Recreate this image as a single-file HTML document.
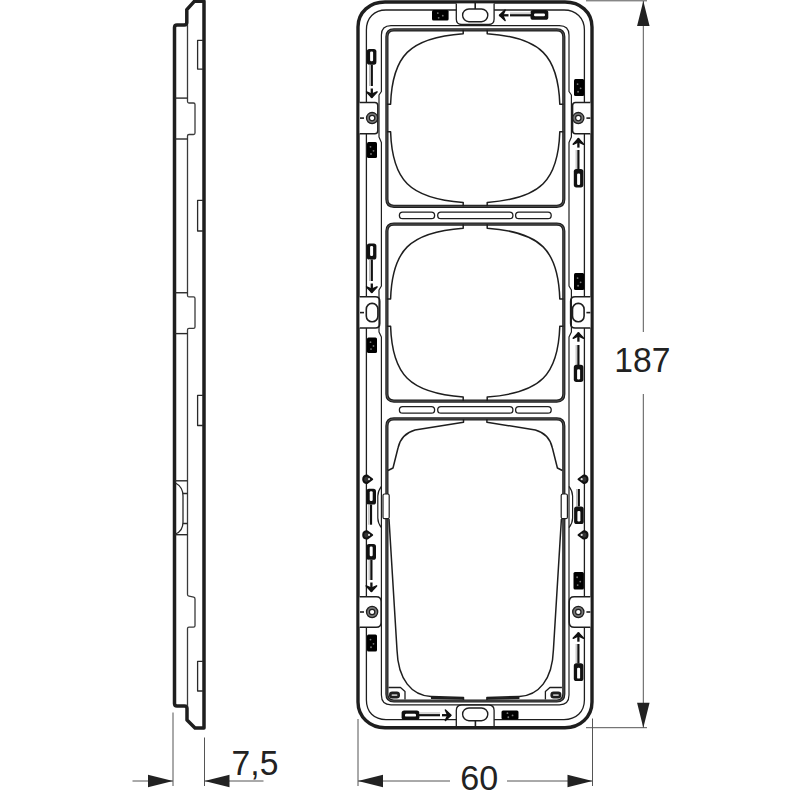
<!DOCTYPE html>
<html><head><meta charset="utf-8"><style>
html,body{margin:0;padding:0;background:#fff;}
svg{display:block;}
.t{font-family:"Liberation Sans",sans-serif;fill:#222;}
</style></head><body>
<svg width="800" height="800" viewBox="0 0 800 800" stroke-linejoin="round" stroke-linecap="butt">
<rect width="800" height="800" fill="#fff"/>
<path d="M204,728 L204,1.3 L194.3,1.3 L186.8,9.6 L186.8,22.5 Q186.8,25 184.3,25 L177,25 Q174.5,25 174.5,27.5 L174.5,703.5 Q174.5,706 177,706 L184.5,706 Q187,706 187,708.5 L187,720 L195,728 Z" fill="none" stroke="#1e1e1e" stroke-width="3.5" />
<path d="M187.5,25 L187.5,101.5 Q187.5,103 189,103 L193.5,103 Q195,103 195,104.5 L195,133 Q195,134.5 193.5,134.5 L189,134.5 Q187.5,134.5 187.5,136 L187.5,295.4 Q187.5,296.9 189,296.9 L193.5,296.9 Q195,296.9 195,298.4 L195,327 Q195,328.4 193.5,328.4 L189,328.4 Q187.5,328.4 187.5,330 L187.5,594.5 Q187.5,595.9 189,596.2 L193.7,597.2 Q195,597.5 195,599 L195,625.8 Q195,627.1 193.5,627.1 L189,627.1 Q187.5,627.1 187.5,628.5 L187.5,706" fill="none" stroke="#3a3a3a" stroke-width="1.3" />
<path d="M175,98.1 L187.5,98.1" fill="none" stroke="#2a2a2a" stroke-width="1.4" />
<path d="M175,139 L187.5,139" fill="none" stroke="#2a2a2a" stroke-width="1.4" />
<path d="M175,292.75 L187.5,292.75" fill="none" stroke="#2a2a2a" stroke-width="1.4" />
<path d="M175,333.6 L187.5,333.6" fill="none" stroke="#2a2a2a" stroke-width="1.4" />
<path d="M175,480.8 L187.5,480.8" fill="none" stroke="#2a2a2a" stroke-width="1.4" />
<path d="M175,534.7 L187.5,534.7" fill="none" stroke="#2a2a2a" stroke-width="1.4" />
<path d="M175.5,483 Q183,487 183,496 L183,522 Q183,531 175.5,534" fill="none" stroke="#2a2a2a" stroke-width="1.3" />
<path d="M183,493.5 L187.5,493.5 M183,523.5 L187.5,523.5" fill="none" stroke="#2a2a2a" stroke-width="1.3" />
<path d="M203,40.3 L197.6,40.3 L197.6,69.1 L203,69.1" fill="none" stroke="#2a2a2a" stroke-width="1.3" />
<path d="M203,200.3 L197.6,200.3 L197.6,231 L203,231" fill="none" stroke="#2a2a2a" stroke-width="1.3" />
<path d="M203,395.3 L197.6,395.3 L197.6,425.5 L203,425.5" fill="none" stroke="#2a2a2a" stroke-width="1.3" />
<path d="M203,661.3 L197.6,661.3 L197.6,691 L203,691" fill="none" stroke="#2a2a2a" stroke-width="1.3" />
<path d="M173,712.5 L173,786 M204.5,737.5 L204.5,786" fill="none" stroke="#555" stroke-width="1" />
<path d="M132.5,781 L173,781 M204.5,781 L263.5,781" fill="none" stroke="#555" stroke-width="1" />
<path d="M173,781 L148.00,787.25 L148.00,774.75 Z" fill="#222" stroke="none"/>
<path d="M204.5,781 L229.50,774.75 L229.50,787.25 Z" fill="#222" stroke="none"/>
<path d="M358,719 L358,786 M592.5,718.5 L592.5,786" fill="none" stroke="#555" stroke-width="1" />
<path d="M358,781 L450,781 M507,781 L592.5,781" fill="none" stroke="#555" stroke-width="1" />
<path d="M358,781 L383.00,774.75 L383.00,787.25 Z" fill="#222" stroke="none"/>
<path d="M592.5,781 L567.50,787.25 L567.50,774.75 Z" fill="#222" stroke="none"/>
<path d="M586,0.8 L647,0.8 M586,727.7 L647,727.7" fill="none" stroke="#555" stroke-width="1" />
<path d="M643.3,1 L643.3,332 M643.3,394 L643.3,727.7" fill="none" stroke="#555" stroke-width="1" />
<path d="M643.3,1 L649.55,26.00 L637.05,26.00 Z" fill="#222" stroke="none"/>
<path d="M643.3,727.7 L637.05,702.70 L649.55,702.70 Z" fill="#222" stroke="none"/>
<path d="M358,27 C358,12 370,2 385,2 L565,2 C580,2 592,12 592,27 L592,702 C592,717 580,727.7 565,727.7 L385,727.7 C370,727.7 358,717 358,702 Z" fill="none" stroke="#1e1e1e" stroke-width="3.4" />
<path d="M366.4,30 C366.4,18 374,10 386,10 L564,10 C576,10 584.4,18 584.4,30 L584.4,700 C584.4,712 576,719.6 564,719.6 L386,719.6 C374,719.6 366.4,712 366.4,700 Z" fill="none" stroke="#1e1e1e" stroke-width="1.3" />
<path d="M359.6,102.5 L374.80,102.5 Q377.80,102.5 377.80,105.5 L377.80,130.8 Q377.80,133.8 374.80,133.8 L359.6,133.8" fill="#fff" stroke="#1e1e1e" stroke-width="1.5" />
<circle cx="372.10" cy="118.1" r="4.1" fill="#fff" stroke="#777" stroke-width="2.8"/>
<circle cx="372.10" cy="118.1" r="5.6" fill="none" stroke="#1e1e1e" stroke-width="1.3"/>
<circle cx="372.10" cy="118.1" r="2.7" fill="none" stroke="#1e1e1e" stroke-width="1.2"/>
<path d="M360.00,118.1 L364.00,118.1" fill="none" stroke="#1e1e1e" stroke-width="1.6" />
<path d="M590.4,102.5 L575.60,102.5 Q572.60,102.5 572.60,105.5 L572.60,130.8 Q572.60,133.8 575.60,133.8 L590.4,133.8" fill="#fff" stroke="#1e1e1e" stroke-width="1.5" />
<circle cx="578.30" cy="118.1" r="4.1" fill="#fff" stroke="#777" stroke-width="2.8"/>
<circle cx="578.30" cy="118.1" r="5.6" fill="none" stroke="#1e1e1e" stroke-width="1.3"/>
<circle cx="578.30" cy="118.1" r="2.7" fill="none" stroke="#1e1e1e" stroke-width="1.2"/>
<path d="M590.40,118.1 L586.40,118.1" fill="none" stroke="#1e1e1e" stroke-width="1.6" />
<path d="M359.6,296.8 L375.30,296.8 Q379.80,296.8 379.80,301.3 L379.80,323.6 Q379.80,328.1 375.30,328.1 L359.6,328.1" fill="#fff" stroke="#1e1e1e" stroke-width="1.5" />
<rect x="366.30" y="303.40" width="11.6" height="18.4" rx="5.6" ry="5.8" fill="none" stroke="#1e1e1e" stroke-width="1.6"/>
<path d="M360.00,312.6 L364.00,312.6" fill="none" stroke="#1e1e1e" stroke-width="1.6" />
<path d="M590.4,296.8 L575.10,296.8 Q570.60,296.8 570.60,301.3 L570.60,323.6 Q570.60,328.1 575.10,328.1 L590.4,328.1" fill="#fff" stroke="#1e1e1e" stroke-width="1.5" />
<rect x="572.50" y="303.40" width="11.6" height="18.4" rx="5.6" ry="5.8" fill="none" stroke="#1e1e1e" stroke-width="1.6"/>
<path d="M590.40,312.6 L586.40,312.6" fill="none" stroke="#1e1e1e" stroke-width="1.6" />
<path d="M359.6,596.8 L376.20,596.8 Q381.20,596.8 381.20,601.8 L381.20,622.2 Q381.20,627.2 376.20,627.2 L359.6,627.2" fill="#fff" stroke="#1e1e1e" stroke-width="1.5" />
<circle cx="372.10" cy="612" r="4.1" fill="#fff" stroke="#777" stroke-width="2.8"/>
<circle cx="372.10" cy="612" r="5.6" fill="none" stroke="#1e1e1e" stroke-width="1.3"/>
<circle cx="372.10" cy="612" r="2.7" fill="none" stroke="#1e1e1e" stroke-width="1.2"/>
<path d="M360.00,612 L364.00,612" fill="none" stroke="#1e1e1e" stroke-width="1.6" />
<path d="M590.4,596.8 L574.20,596.8 Q569.20,596.8 569.20,601.8 L569.20,622.2 Q569.20,627.2 574.20,627.2 L590.4,627.2" fill="#fff" stroke="#1e1e1e" stroke-width="1.5" />
<circle cx="578.30" cy="612" r="4.1" fill="#fff" stroke="#777" stroke-width="2.8"/>
<circle cx="578.30" cy="612" r="5.6" fill="none" stroke="#1e1e1e" stroke-width="1.3"/>
<circle cx="578.30" cy="612" r="2.7" fill="none" stroke="#1e1e1e" stroke-width="1.2"/>
<path d="M590.40,612 L586.40,612" fill="none" stroke="#1e1e1e" stroke-width="1.6" />
<path d="M381.4,35 L381.4,91.5 L379,95 L379,137 L381.4,142.5 L381.4,286 L379,290 L379,332 L381.4,337 L381.4,695" fill="none" stroke="#1e1e1e" stroke-width="1.2" />
<path d="M569.0,35 L569.0,91.5 L571.4,95 L571.4,137 L569.0,142.5 L569.0,286 L571.4,290 L571.4,332 L569.0,337 L569.0,695" fill="none" stroke="#1e1e1e" stroke-width="1.2" />
<path d="M381.4,35 Q381.4,25.6 391,25.6 L559.4,25.6 Q569,25.6 569,35" fill="none" stroke="#1e1e1e" stroke-width="1.2" />
<path d="M381.4,695 Q381.4,704.8 391,704.8 L559.4,704.8 Q569,704.8 569,695" fill="none" stroke="#1e1e1e" stroke-width="1.2" />
<path d="M456.3,3.5 L456.3,19 Q456.3,24.5 461.8,24.5 L488.6,24.5 Q494.1,24.5 494.1,19 L494.1,3.5" fill="#fff" stroke="#1e1e1e" stroke-width="1.3" />
<rect x="462.6" y="9" width="25.2" height="12.7" rx="6.35" fill="none" stroke="#1e1e1e" stroke-width="1.4"/>
<path d="M475.2,3 L475.2,9" fill="none" stroke="#1e1e1e" stroke-width="1.6" />
<path d="M456.3,726 L456.3,710.5 Q456.3,705 461.8,705 L488.6,705 Q494.1,705 494.1,710.5 L494.1,726" fill="#fff" stroke="#1e1e1e" stroke-width="1.3" />
<rect x="462.6" y="708" width="25.2" height="12.7" rx="6.35" fill="none" stroke="#1e1e1e" stroke-width="1.4"/>
<path d="M475.4,720.7 L475.4,727" fill="none" stroke="#1e1e1e" stroke-width="1.6" />
<path d="M393.9,29.8 L556.8,29.8 Q563.8,29.8 563.8,36.8 L563.8,199.3 Q563.8,206.3 556.8,206.3 L393.9,206.3 Q386.9,206.3 386.9,199.3 L386.9,36.8 Q386.9,29.8 393.9,29.8 Z" fill="none" stroke="#1e1e1e" stroke-width="3.2" />
<path d="M393.9,29.8 L556.8,29.8 Q563.8,29.8 563.8,36.8 L563.8,199.3 Q563.8,206.3 556.8,206.3 L393.9,206.3 Q386.9,206.3 386.9,199.3 L386.9,36.8 Q386.9,29.8 393.9,29.8 Z" fill="none" stroke="#777" stroke-width="0.6" />
<path d="M393.9,224.1 L556.8,224.1 Q563.8,224.1 563.8,231.1 L563.8,394.1 Q563.8,401.1 556.8,401.1 L393.9,401.1 Q386.9,401.1 386.9,394.1 L386.9,231.1 Q386.9,224.1 393.9,224.1 Z" fill="none" stroke="#1e1e1e" stroke-width="3.2" />
<path d="M393.9,224.1 L556.8,224.1 Q563.8,224.1 563.8,231.1 L563.8,394.1 Q563.8,401.1 556.8,401.1 L393.9,401.1 Q386.9,401.1 386.9,394.1 L386.9,231.1 Q386.9,224.1 393.9,224.1 Z" fill="none" stroke="#777" stroke-width="0.6" />
<path d="M393.9,418.9 L556.8,418.9 Q563.8,418.9 563.8,425.9 L563.8,694.0 Q563.8,701.0 556.8,701.0 L393.9,701.0 Q386.9,701.0 386.9,694.0 L386.9,425.9 Q386.9,418.9 393.9,418.9 Z" fill="none" stroke="#1e1e1e" stroke-width="3.2" />
<path d="M393.9,418.9 L556.8,418.9 Q563.8,418.9 563.8,425.9 L563.8,694.0 Q563.8,701.0 556.8,701.0 L393.9,701.0 Q386.9,701.0 386.9,694.0 L386.9,425.9 Q386.9,418.9 393.9,418.9 Z" fill="none" stroke="#777" stroke-width="0.6" />
<rect x="399.40" y="212.10" width="35.20" height="6.6" rx="3.2" fill="none" stroke="#1e1e1e" stroke-width="1.3"/>
<rect x="437.70" y="212.10" width="75.20" height="6.6" rx="3.2" fill="none" stroke="#1e1e1e" stroke-width="1.3"/>
<rect x="515.60" y="212.10" width="35.60" height="6.6" rx="3.2" fill="none" stroke="#1e1e1e" stroke-width="1.3"/>
<rect x="399.40" y="406.60" width="35.20" height="6.6" rx="3.2" fill="none" stroke="#1e1e1e" stroke-width="1.3"/>
<rect x="437.70" y="406.60" width="75.20" height="6.6" rx="3.2" fill="none" stroke="#1e1e1e" stroke-width="1.3"/>
<rect x="515.60" y="406.60" width="35.60" height="6.6" rx="3.2" fill="none" stroke="#1e1e1e" stroke-width="1.3"/>
<path d="M463.20,29.75 L463.20,33.65 C409.20,37.55 392.20,56.05 390.60,104.35 L386.90,104.35" fill="none" stroke="#1e1e1e" stroke-width="1.5" />
<path d="M463.20,206.35 L463.20,202.45 C409.20,198.55 392.20,180.05 390.60,131.75 L386.90,131.75" fill="none" stroke="#1e1e1e" stroke-width="1.5" />
<path d="M487.20,29.75 L487.20,33.65 C541.20,37.55 558.20,56.05 559.80,104.35 L563.50,104.35" fill="none" stroke="#1e1e1e" stroke-width="1.5" />
<path d="M487.20,206.35 L487.20,202.45 C541.20,198.55 558.20,180.05 559.80,131.75 L563.50,131.75" fill="none" stroke="#1e1e1e" stroke-width="1.5" />
<path d="M463.20,224.30 L463.20,228.20 C409.20,232.10 392.20,250.60 390.60,298.90 L386.90,298.90" fill="none" stroke="#1e1e1e" stroke-width="1.5" />
<path d="M463.20,400.90 L463.20,397.00 C409.20,393.10 392.20,374.60 390.60,326.30 L386.90,326.30" fill="none" stroke="#1e1e1e" stroke-width="1.5" />
<path d="M487.20,224.30 L487.20,228.20 C541.20,232.10 558.20,250.60 559.80,298.90 L563.50,298.90" fill="none" stroke="#1e1e1e" stroke-width="1.5" />
<path d="M487.20,400.90 L487.20,397.00 C541.20,393.10 558.20,374.60 559.80,326.30 L563.50,326.30" fill="none" stroke="#1e1e1e" stroke-width="1.5" />
<path d="M463.50,419 L463.50,422.2 L415.00,430 Q401.00,434 398.00,448 L393.00,468 L388.00,470.5" fill="none" stroke="#1e1e1e" stroke-width="1.5" />
<path d="M389.00,519 L397.00,650 C398.00,680 412.00,695.5 431.00,696.5 L463.50,697.5 L463.50,700" fill="none" stroke="#1e1e1e" stroke-width="1.5" />
<path d="M431.00,697.8 L463.50,698.6" fill="none" stroke="#1e1e1e" stroke-width="2.2" />
<rect x="383.00" y="494" width="6.2" height="24.7" rx="1.5" fill="#fff" stroke="#1e1e1e" stroke-width="1.2"/>
<path d="M381.40,486.3 Q377.80,491 377.80,496 L377.80,518 Q377.80,523 381.40,527.6" fill="none" stroke="#1e1e1e" stroke-width="1.2" />
<path d="M388.50,687.5 L400.50,687.5 L405.00,691.5 L405.00,699.5" fill="none" stroke="#1e1e1e" stroke-width="1.3" />
<rect x="389.00" y="691.5" width="11" height="7" rx="3.2" fill="#1e1e1e"/>
<rect x="391.50" y="694.2" width="6" height="1.8" rx="0.9" fill="#bbb"/>
<path d="M486.90,419 L486.90,422.2 L535.40,430 Q549.40,434 552.40,448 L557.40,468 L562.40,470.5" fill="none" stroke="#1e1e1e" stroke-width="1.5" />
<path d="M561.40,519 L553.40,650 C552.40,680 538.40,695.5 519.40,696.5 L486.90,697.5 L486.90,700" fill="none" stroke="#1e1e1e" stroke-width="1.5" />
<path d="M519.40,697.8 L486.90,698.6" fill="none" stroke="#1e1e1e" stroke-width="2.2" />
<rect x="561.20" y="494" width="6.2" height="24.7" rx="1.5" fill="#fff" stroke="#1e1e1e" stroke-width="1.2"/>
<path d="M569.00,486.3 Q572.60,491 572.60,496 L572.60,518 Q572.60,523 569.00,527.6" fill="none" stroke="#1e1e1e" stroke-width="1.2" />
<path d="M561.90,687.5 L549.90,687.5 L545.40,691.5 L545.40,699.5" fill="none" stroke="#1e1e1e" stroke-width="1.3" />
<rect x="550.40" y="691.5" width="11" height="7" rx="3.2" fill="#1e1e1e"/>
<rect x="552.90" y="694.2" width="6" height="1.8" rx="0.9" fill="#bbb"/>
<rect x="366.80" y="49" width="9.6" height="15.70" rx="2.6" fill="#111"/>
<rect x="370.10" y="51.50" width="3" height="9.70" rx="1.2" fill="#fff"/>
<path d="M371.80,64.7 L371.80,86" fill="none" stroke="#111" stroke-width="2.2" />
<path d="M369.60,64.7 L369.60,86" fill="none" stroke="#bbb" stroke-width="1.2" />
<path d="M371.80,97.50 L366.60,91.90 L371.80,94.30 L377.00,91.90 Z" fill="#111" stroke="#111" stroke-width="1.5" />
<path d="M371.80,97.50 L371.80,88.50" fill="none" stroke="#111" stroke-width="2.3" />
<rect x="367" y="142" width="10" height="16" rx="1.5" fill="#000"/>
<circle cx="370.50" cy="146.80" r="0.9" fill="#777"/>
<circle cx="373.50" cy="150.80" r="0.9" fill="#777"/>
<circle cx="371.00" cy="154.00" r="0.9" fill="#777"/>
<rect x="366.80" y="243.5" width="9.6" height="16.00" rx="2.6" fill="#111"/>
<rect x="370.10" y="246.00" width="3" height="10.00" rx="1.2" fill="#fff"/>
<path d="M371.80,259.5 L371.80,281" fill="none" stroke="#111" stroke-width="2.2" />
<path d="M369.60,259.5 L369.60,281" fill="none" stroke="#bbb" stroke-width="1.2" />
<path d="M371.80,292.50 L366.60,286.90 L371.80,289.30 L377.00,286.90 Z" fill="#111" stroke="#111" stroke-width="1.5" />
<path d="M371.80,292.50 L371.80,283.50" fill="none" stroke="#111" stroke-width="2.3" />
<rect x="367" y="337.5" width="10" height="15.5" rx="1.5" fill="#000"/>
<circle cx="370.50" cy="342.15" r="0.9" fill="#777"/>
<circle cx="373.50" cy="346.02" r="0.9" fill="#777"/>
<circle cx="371.00" cy="349.12" r="0.9" fill="#777"/>
<rect x="366.40" y="488.7" width="9.6" height="15.80" rx="2.6" fill="#111"/>
<rect x="369.70" y="491.20" width="3" height="9.80" rx="1.2" fill="#fff"/>
<path d="M371.00,504.5 L371.00,524.7" fill="none" stroke="#111" stroke-width="2.2" />
<path d="M368.80,504.5 L368.80,524.7" fill="none" stroke="#bbb" stroke-width="1.2" />
<rect x="366.40" y="544" width="9.6" height="15.80" rx="2.6" fill="#111"/>
<rect x="369.70" y="546.50" width="3" height="9.80" rx="1.2" fill="#fff"/>
<path d="M371.40,559.8 L371.40,580" fill="none" stroke="#111" stroke-width="2.2" />
<path d="M369.20,559.8 L369.20,580" fill="none" stroke="#bbb" stroke-width="1.2" />
<path d="M371.40,591.50 L366.20,585.90 L371.40,588.30 L376.60,585.90 Z" fill="#111" stroke="#111" stroke-width="1.5" />
<path d="M371.40,591.50 L371.40,582.50" fill="none" stroke="#111" stroke-width="2.3" />
<rect x="367" y="634.5" width="10" height="17" rx="1.5" fill="#000"/>
<circle cx="370.50" cy="639.60" r="0.9" fill="#777"/>
<circle cx="373.50" cy="643.85" r="0.9" fill="#777"/>
<circle cx="371.00" cy="647.25" r="0.9" fill="#777"/>
<path d="M363.2,479.2 Q363.2,475.5 367.15,475.5 L372.2,479.2 L367.15,482.9 Q363.2,482.9 363.2,479.2 Z" fill="#333" stroke="#111" stroke-width="2.0" />
<circle cx="369.02" cy="479.20" r="1.1" fill="#ddd"/>
<path d="M363.2,534.9499999999999 Q363.2,531.3 367.15,531.3 L372.2,534.9499999999999 L367.15,538.5999999999999 Q363.2,538.5999999999999 363.2,534.9499999999999 Z" fill="#333" stroke="#111" stroke-width="2.0" />
<circle cx="369.02" cy="534.95" r="1.1" fill="#ddd"/>
<path d="M587.5,479.2 Q587.5,475.5 583.55,475.5 L578.5,479.2 L583.55,482.9 Q587.5,482.9 587.5,479.2 Z" fill="#333" stroke="#111" stroke-width="2.0" />
<circle cx="581.68" cy="479.20" r="1.1" fill="#ddd"/>
<path d="M587.5,534.9499999999999 Q587.5,531.3 583.55,531.3 L578.5,534.9499999999999 L583.55,538.5999999999999 Q587.5,538.5999999999999 587.5,534.9499999999999 Z" fill="#333" stroke="#111" stroke-width="2.0" />
<circle cx="581.68" cy="534.95" r="1.1" fill="#ddd"/>
<rect x="574" y="79" width="10.2" height="17" rx="1.5" fill="#000"/>
<circle cx="577.57" cy="84.10" r="0.9" fill="#777"/>
<circle cx="580.63" cy="88.35" r="0.9" fill="#777"/>
<circle cx="578.08" cy="91.75" r="0.9" fill="#777"/>
<path d="M578.40,138.60 L583.60,144.20 L578.40,141.80 L573.20,144.20 Z" fill="#111" stroke="#111" stroke-width="1.5" />
<path d="M578.40,138.60 L578.40,147.60" fill="none" stroke="#111" stroke-width="2.3" />
<path d="M578.40,150 L578.40,170" fill="none" stroke="#111" stroke-width="2.2" />
<path d="M576.20,150 L576.20,170" fill="none" stroke="#bbb" stroke-width="1.2" />
<rect x="573.80" y="169" width="9.6" height="18.40" rx="2.6" fill="#111"/>
<rect x="577.10" y="173.50" width="3" height="11.40" rx="1.2" fill="#fff"/>
<rect x="574" y="273" width="10.2" height="17" rx="1.5" fill="#000"/>
<circle cx="577.57" cy="278.10" r="0.9" fill="#777"/>
<circle cx="580.63" cy="282.35" r="0.9" fill="#777"/>
<circle cx="578.08" cy="285.75" r="0.9" fill="#777"/>
<path d="M578.40,332.70 L583.60,338.30 L578.40,335.90 L573.20,338.30 Z" fill="#111" stroke="#111" stroke-width="1.5" />
<path d="M578.40,332.70 L578.40,341.70" fill="none" stroke="#111" stroke-width="2.3" />
<path d="M578.40,345 L578.40,365" fill="none" stroke="#111" stroke-width="2.2" />
<path d="M576.20,345 L576.20,365" fill="none" stroke="#bbb" stroke-width="1.2" />
<rect x="573.80" y="364.8" width="9.6" height="17.10" rx="2.6" fill="#111"/>
<rect x="577.10" y="369.30" width="3" height="10.10" rx="1.2" fill="#fff"/>
<path d="M578.80,489 L578.80,506.4" fill="none" stroke="#111" stroke-width="2.2" />
<path d="M576.60,489 L576.60,506.4" fill="none" stroke="#bbb" stroke-width="1.2" />
<rect x="574.10" y="506.4" width="9.6" height="17.60" rx="2.6" fill="#111"/>
<rect x="577.40" y="510.90" width="3" height="10.60" rx="1.2" fill="#fff"/>
<rect x="573.5" y="572" width="10.4" height="17.5" rx="1.5" fill="#000"/>
<circle cx="577.14" cy="577.25" r="0.9" fill="#777"/>
<circle cx="580.26" cy="581.62" r="0.9" fill="#777"/>
<circle cx="577.66" cy="585.12" r="0.9" fill="#777"/>
<path d="M578.40,632.70 L583.60,638.30 L578.40,635.90 L573.20,638.30 Z" fill="#111" stroke="#111" stroke-width="1.5" />
<path d="M578.40,632.70 L578.40,641.70" fill="none" stroke="#111" stroke-width="2.3" />
<path d="M578.40,644 L578.40,663.5" fill="none" stroke="#111" stroke-width="2.2" />
<path d="M576.20,644 L576.20,663.5" fill="none" stroke="#bbb" stroke-width="1.2" />
<rect x="573.80" y="663.2" width="9.6" height="17.90" rx="2.6" fill="#111"/>
<rect x="577.10" y="667.70" width="3" height="10.90" rx="1.2" fill="#fff"/>
<rect x="432" y="10" width="16.6" height="10.4" rx="1.5" fill="#000"/>
<circle cx="437.81" cy="13.12" r="0.9" fill="#777"/>
<circle cx="442.79" cy="15.72" r="0.9" fill="#777"/>
<circle cx="438.64" cy="17.80" r="0.9" fill="#777"/>
<rect x="501.5" y="710.5" width="17" height="9" rx="1.5" fill="#000"/>
<circle cx="507.45" cy="713.20" r="0.9" fill="#777"/>
<circle cx="512.55" cy="715.45" r="0.9" fill="#777"/>
<circle cx="508.30" cy="717.25" r="0.9" fill="#777"/>
<rect x="530.5" y="10" width="17.8" height="9.8" rx="2.6" fill="#111"/>
<rect x="534" y="13.5" width="11" height="2.8" rx="1.2" fill="#fff"/>
<path d="M510,15.3 L531,15.3" fill="none" stroke="#111" stroke-width="2.2" />
<path d="M510,13.1 L531,13.1" fill="none" stroke="#bbb" stroke-width="1.2" />
<path d="M499.50,15.30 L505.10,10.10 L502.70,15.30 L505.10,20.50 Z" fill="#111" stroke="#111" stroke-width="1.5" />
<path d="M499.50,15.30 L508.50,15.30" fill="none" stroke="#111" stroke-width="2.3" />
<rect x="401.6" y="710.4" width="17.8" height="9.4" rx="2.6" fill="#111"/>
<rect x="405" y="713.8" width="11" height="2.8" rx="1.2" fill="#fff"/>
<path d="M419,715.2 L440,715.2" fill="none" stroke="#111" stroke-width="2.2" />
<path d="M419,713.0 L440,713.0" fill="none" stroke="#bbb" stroke-width="1.2" />
<path d="M451.00,715.20 L445.40,720.40 L447.80,715.20 L445.40,710.00 Z" fill="#111" stroke="#111" stroke-width="1.5" />
<path d="M451.00,715.20 L442.00,715.20" fill="none" stroke="#111" stroke-width="2.3" />
<text class="t" transform="translate(231.6,774.5) scale(0.962,1)" font-size="35">7,5</text>
<text class="t" transform="translate(460.2,789.5) scale(0.975,1)" font-size="35">60</text>
<text class="t" transform="translate(614.2,372) scale(0.962,1)" font-size="35">187</text>
</svg>
</body></html>
